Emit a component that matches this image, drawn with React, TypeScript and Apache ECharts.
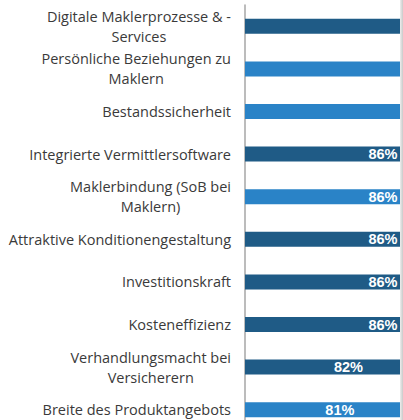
import React, { useEffect, useRef } from "react";
import * as echarts from "echarts";

const categories = [
  "Digitale Maklerprozesse & -\nServices",
  "Persönliche Beziehungen zu\nMaklern",
  "Bestandssicherheit",
  "Integrierte Vermittlersoftware",
  "Maklerbindung (SoB bei\nMaklern)",
  "Attraktive Konditionengestaltung",
  "Investitionskraft",
  "Kosteneffizienz",
  "Verhandlungsmacht bei\nVersicherern",
  "Breite des Produktangebots",
];
const values = [94, 93, 92, 86, 86, 86, 86, 86, 82, 81];
const highlighted = [false, true, true, false, true, false, false, false, false, true];

const DARK = "#1f5b86";
const LIGHT = "#2a83c7";
// values whose labels fall beyond the visible (cropped) area
const VISIBLE_LABEL_MAX = 90;

export default function App() {
  const ref = useRef<HTMLDivElement>(null);
  useEffect(() => {
    if (!ref.current) return;
    const chart = echarts.init(ref.current, undefined, { renderer: "svg" });
    chart.setOption({
      animation: false,
      grid: { left: 245, top: 5, width: 517.5, height: 426, containLabel: false },
      xAxis: {
        type: "value",
        min: 70,
        max: 100,
        show: false,
      },
      yAxis: {
        type: "category",
        inverse: true,
        data: categories,
        axisLine: { show: true, lineStyle: { color: "#a6a6a6", width: 1.5 } },
        axisTick: { show: false },
        axisLabel: {
          margin: 14,
          color: "#3a3a3a",
          fontFamily: "Open Sans",
          fontSize: 14.5,
          lineHeight: 20,
          formatter: (v: string) =>
            v
              .split("\n")
              .map((l) => "{c|" + l + "}")
              .join("\n"),
          rich: {
            c: {
              align: "center",
              color: "#3a3a3a",
              fontFamily: "Open Sans",
              fontSize: 14.5,
              lineHeight: 20,
            },
          },
        },
      },
      series: [
        {
          type: "bar",
          barWidth: 15,
          data: values.map((v, i) => ({
            value: v,
            itemStyle: { color: highlighted[i] ? LIGHT : DARK },
            label: { show: v <= VISIBLE_LABEL_MAX },
          })),
          label: {
            show: true,
            position: "inside",
            color: "#ffffff",
            fontFamily: "Liberation Sans",
            fontWeight: "bold",
            fontSize: 14.5,
            formatter: (p: any) => p.value + "%",
          },
        },
      ],
    });
    return () => chart.dispose();
  }, []);
  return (
    <div
      style={{
        position: "fixed",
        left: 0,
        top: 0,
        width: 403,
        height: 420,
        overflow: "hidden",
        background: "#ffffff",
      }}
    >
      <div ref={ref} style={{ width: 780, height: 440 }} />
      <div
        style={{
          position: "absolute",
          left: 400,
          top: 0,
          width: 3,
          height: 420,
          background: "linear-gradient(to right, #eeeeee, #c9c9c9)",
        }}
      />
    </div>
  );
}
